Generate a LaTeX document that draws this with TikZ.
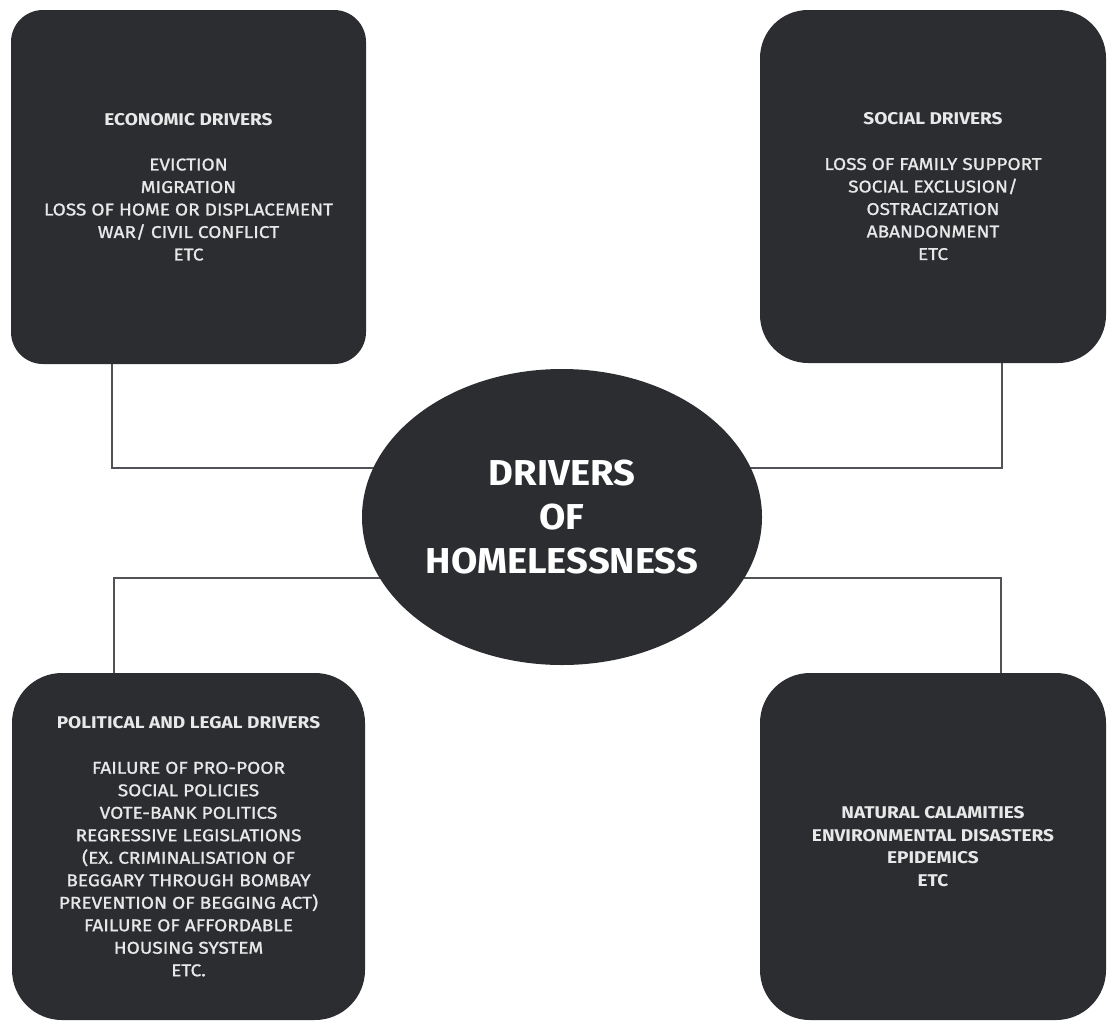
\documentclass[tikz,border=0pt]{standalone}
\usepackage{fontspec}
\setmainfont{Fira Sans}[FakeStretch=1.12, UprightFeatures={FakeBold=1.2}]
\newfontfamily\hubfont{Fira Sans}[FakeStretch=1.06]
\usetikzlibrary{shapes.geometric}
\usetikzlibrary{backgrounds}

\definecolor{boxgray}{HTML}{2B2D31}
\definecolor{linegray}{HTML}{505256}
\definecolor{textwhite}{HTML}{E8E8E8}

\tikzset{
    driver/.style={fill=boxgray, text=textwhite, align=center, inner sep=0pt,
        font=\fontsize{17}{22.5}\selectfont},
    hubnode/.style={ellipse, fill=boxgray, text=white, align=center, inner sep=0pt,
        minimum width=400pt, minimum height=296pt,
        font=\hubfont\fontsize{36}{44}\selectfont\bfseries},
    link/.style={linegray, line width=1.6pt},
}

\begin{document}
\begin{tikzpicture}[x=1pt, y=-1pt]

    \useasboundingbox (0, 0) rectangle (1107, 1020);

    \node [hubnode] (hub) at (562, 517) {DRIVERS\\OF\\HOMELESSNESS};

    \node [driver, rounded corners=32pt, minimum width=355pt, minimum height=354pt] (econ) at (188.5, 187)
        {\textbf{ECONOMIC DRIVERS}\\[22.5pt]
        EVICTION\\MIGRATION\\LOSS OF HOME OR DISPLACEMENT\\WAR/ CIVIL CONFLICT\\ETC};

    \node [driver, rounded corners=48pt, minimum width=346pt, minimum height=353pt] (social) at (933, 186.5)
        {\textbf{SOCIAL DRIVERS}\\[22.5pt]
        LOSS OF FAMILY SUPPORT\\SOCIAL EXCLUSION/\\OSTRACIZATION\\ABANDONMENT\\ETC};

    \node [driver, rounded corners=50pt, minimum width=353pt, minimum height=347pt] (polit) at (188.5, 846.5)
        {\textbf{POLITICAL AND LEGAL DRIVERS}\\[22.5pt]
        FAILURE OF PRO-POOR\\SOCIAL POLICIES\\VOTE-BANK POLITICS\\REGRESSIVE LEGISLATIONS\\
        (EX. CRIMINALISATION OF\\BEGGARY THROUGH BOMBAY\\PREVENTION OF BEGGING ACT)\\
        FAILURE OF AFFORDABLE\\HOUSING SYSTEM\\ETC.};

    \node [driver, rounded corners=50pt, minimum width=346pt, minimum height=347pt,
        font=\fontsize{17}{22.5}\selectfont\bfseries] (nature) at (933, 846.5)
        {NATURAL CALAMITIES\\ENVIRONMENTAL DISASTERS\\EPIDEMICS\\ETC};

    \coordinate (econ-bend) at (112, 468);
    \coordinate (social-bend) at (1002, 468);
    \coordinate (polit-bend) at (114, 578);
    \coordinate (nature-bend) at (1001, 578);

    \begin{scope}[on background layer]
        \draw [link] (econ-bend |- econ.south) -- (econ-bend) -- (econ-bend -| hub.center);
        \draw [link] (social-bend |- social.south) -- (social-bend) -- (social-bend -| hub.center);
        \draw [link] (polit-bend |- polit.north) -- (polit-bend) -- (polit-bend -| hub.center);
        \draw [link] (nature-bend |- nature.north) -- (nature-bend) -- (nature-bend -| hub.center);
    \end{scope}

\end{tikzpicture}
\end{document}
